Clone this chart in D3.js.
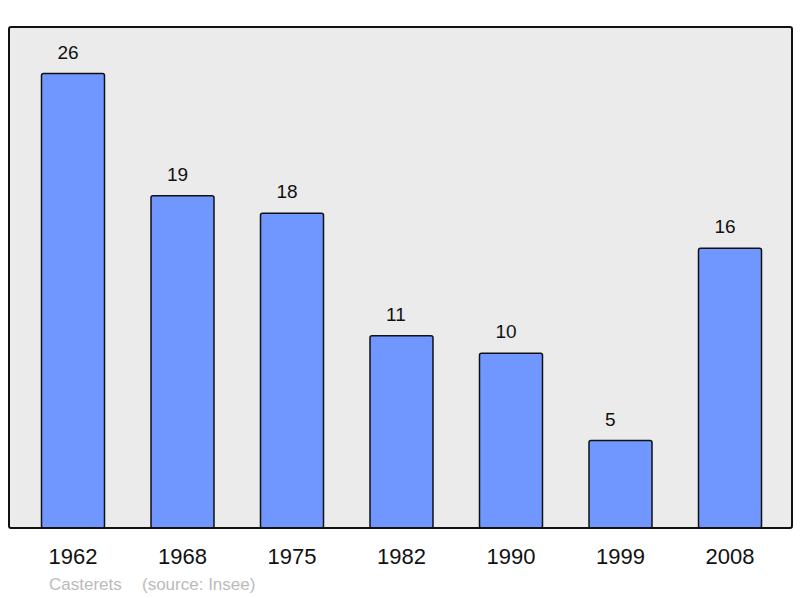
<!DOCTYPE html>
<html><head><meta charset="utf-8">
<script src="https://cdn.jsdelivr.net/npm/d3@7"></script>
<style>body{margin:0;background:#fff}svg{display:block}</style>
</head><body>
<script>
const years = ["1962","1968","1975","1982","1990","1999","2008"];
const population = [26, 19, 18, 11, 10, 5, 16];
const commune = "Casterets";
const source = "(source: Insee)";

const W = 800, H = 598;
const svg = d3.select("body").append("svg").attr("width", W).attr("height", H);
const font = "'Liberation Sans', Arial, sans-serif";

const plot = {x0: 9, x1: 792, y0: 27, y1: 528};
svg.append("rect").attr("x", plot.x0).attr("y", plot.y0)
  .attr("width", plot.x1 - plot.x0).attr("height", plot.y1 - plot.y0)
  .attr("rx", 2).attr("fill", "#ebebeb");

const x = d3.scaleBand().domain(years).range([41.5, 761.5]).paddingInner(0.4247).paddingOuter(0);
const y = d3.scaleLinear().domain([0, 26]).range([plot.y1, 73.5]);

const g = svg.append("g");
g.selectAll("rect.bar").data(years).join("rect").attr("class", "bar")
  .attr("x", d => x(d)).attr("width", x.bandwidth())
  .attr("y", (d, i) => y(population[i])).attr("height", (d, i) => plot.y1 - y(population[i]))
  .attr("rx", 2).attr("fill", "#7097ff").attr("stroke", "#111").attr("stroke-width", 1.5);

g.selectAll("text.val").data(years).join("text").attr("class", "val")
  .attr("x", d => x(d) + 16).attr("y", (d, i) => y(population[i]) - 15)
  .attr("text-anchor", "start").attr("font-family", font).attr("font-size", 19).attr("fill", "#111")
  .text((d, i) => population[i]);

svg.append("rect").attr("x", plot.x0).attr("y", plot.y0)
  .attr("width", plot.x1 - plot.x0).attr("height", plot.y1 - plot.y0)
  .attr("rx", 2).attr("fill", "none").attr("stroke", "#111").attr("stroke-width", 2);

const axis = d3.axisBottom(x).tickSize(0).tickPadding(0);
const ax = svg.append("g").attr("transform", `translate(0,${plot.y1})`).call(axis);
ax.select(".domain").remove();
ax.selectAll("text").attr("font-family", font).attr("font-size", 22).attr("fill", "#111")
  .attr("dy", null).attr("y", 36);

svg.append("text").attr("x", 49).attr("y", 590).attr("font-family", font).attr("font-size", 17)
  .attr("fill", "#bbb").text(commune);
svg.append("text").attr("x", 142).attr("y", 590).attr("font-family", font).attr("font-size", 17)
  .attr("fill", "#bbb").text(source);
</script>
</body></html>
